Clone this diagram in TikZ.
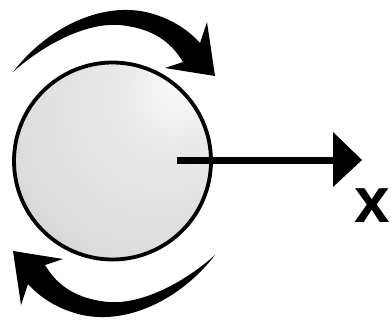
\documentclass[tikz,border=0pt]{standalone}
\usepackage{fontspec}
\newfontfamily\labelfont{Liberation Sans}
\pgfdeclareradialshading{sphshade}{\pgfpoint{18bp}{20bp}}{%
  color(0bp)=(black!2); color(12bp)=(black!8); color(35bp)=(black!14); color(50bp)=(black!25); color(70bp)=(black!30)}
\newcommand\myrotarrow{%
  \fill[black] (13,72) .. controls (45,30) and (100,0) .. (150,13)
      .. controls (175,20) and (190,32) .. (200,43)
      -- (207,22) -- (215,76) -- (165,68) -- (183,62)
      .. controls (170,40) and (150,28) .. (120,25)
      .. controls (80,22) and (35,52) .. (13,72) -- cycle;}
\begin{document}
\begin{tikzpicture}[x=1pt,y=-1pt]
\useasboundingbox (0,0) rectangle (391,324);
\node[circle, draw=black, line width=3.8pt, minimum size=197pt, inner sep=0pt, shading=sphshade] (ball) at (112.5,161) {};
% rotation arrows
\myrotarrow
\begin{scope}[rotate around={180:(114,163.5)}]
\myrotarrow
\end{scope}
% x axis arrow
\coordinate (start) at (177,160);
\coordinate (end) at (336,160);
\draw[line width=7pt] (start) -- (end);
\fill[black] (333,132) -- (362,160) -- (333,187) -- cycle;
\node[inner sep=0pt, font=\labelfont\bfseries\fontsize{64}{64}\selectfont] (xlab) at (372.5,205.5) {x};
\end{tikzpicture}
\end{document}
